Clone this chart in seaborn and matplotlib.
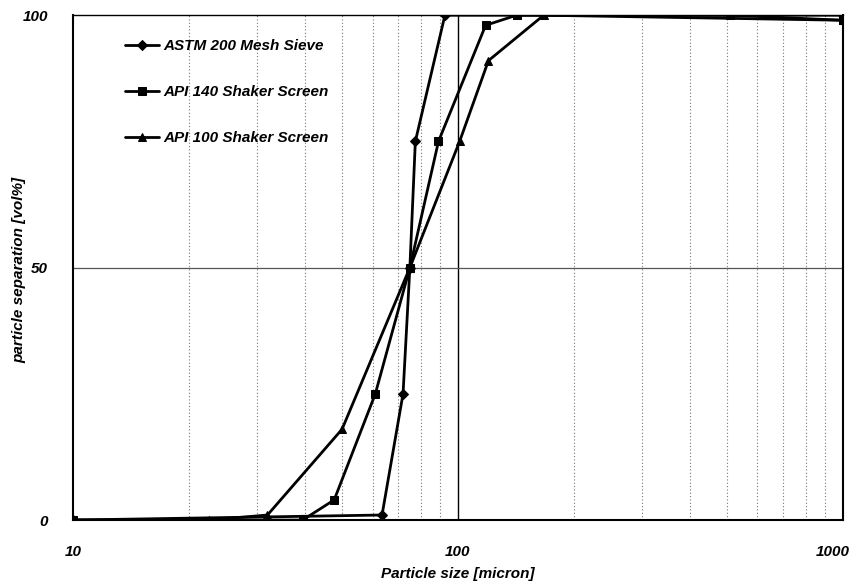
import matplotlib
matplotlib.use("Agg")
import matplotlib.pyplot as plt
import matplotlib.transforms as mtransforms
import seaborn as sns
import numpy as np
import pandas as pd
from matplotlib.ticker import FixedLocator, NullFormatter

# ---- data ----
astm_size = [10, 63.5, 72, 75, 77.5, 92.5, 1000]
astm_sep = [0, 1, 25, 50, 75, 100, 100]

api140_size = [10, 39.5, 47.7, 61, 75, 89, 118, 142, 508, 1000]
api140_sep = [0, 0, 4, 25, 50, 75, 98, 100, 100, 99]

api100_size = [10, 22.5, 32, 50, 75, 101, 120, 167, 1000]
api100_sep = [0, 0, 1, 18, 50, 75, 91, 100, 99]

series_names = ["ASTM 200 Mesh Sieve", "API 140 Shaker Screen", "API 100 Shaker Screen"]
series_markers = ["D", "s", "^"]

x_ticks = [10, 100, 1000]
x_tick_labels = ["10", "100", "1000"]
y_ticks = [0, 50, 100]
y_tick_labels = ["0", "50", "100"]

sns.set_theme(style="white")
plt.rcParams["font.family"] = ["Liberation Sans", "DejaVu Sans"]

fig = plt.figure(figsize=(8.54, 5.85), dpi=100)
ax = fig.add_axes([0.0855, 0.111, 0.9015, 0.863])

frames = []
for name, xs, ys in zip(series_names,
                        [astm_size, api140_size, api100_size],
                        [astm_sep, api140_sep, api100_sep]):
    frames.append(pd.DataFrame({"size": xs, "sep": ys, "series": name}))
df = pd.concat(frames, ignore_index=True)

ax.set_xscale("log")

# grid lines (under data)
minor = [v * d for d in (10, 100) for v in range(2, 10)]
for v in minor:
    ax.axvline(v, color="#777777", lw=0.8, ls=(0, (1, 2)), zorder=0)
ax.axvline(100, color="black", lw=1.0, zorder=0)
ax.axhline(50, color="#555555", lw=0.9, zorder=0)
ax.axhline(100, color="black", lw=1.2, zorder=0)

for name, mk in zip(series_names, series_markers):
    sub = df[df["series"] == name]
    sns.lineplot(data=sub, x="size", y="sep", ax=ax, color="black",
                 lw=2.0, marker=mk, markersize=5.5, markeredgecolor="black",
                 markerfacecolor="black", estimator=None, sort=False,
                 label=name, zorder=3)

ax.set_xlim(10, 1000)
ax.set_ylim(0, 100)
ax.xaxis.set_major_locator(FixedLocator(x_ticks))
ax.xaxis.set_minor_formatter(NullFormatter())
ax.set_xticks(x_ticks)
ax.set_xticklabels(x_tick_labels)
ax.set_yticks(y_ticks)
ax.set_yticklabels(y_tick_labels)

for lab in ax.get_xticklabels() + ax.get_yticklabels():
    lab.set_fontsize(11)
    lab.set_fontweight("bold")
    lab.set_fontstyle("italic")
    lab.set_color("black")

ax.tick_params(axis="both", which="both", length=0)
ax.tick_params(axis="x", pad=18)
ax.tick_params(axis="y", pad=18)

# shift the "1000" label left so it stays inside the figure
xl = ax.get_xticklabels()
shift = mtransforms.ScaledTranslation(-10 / 100, 0, fig.dpi_scale_trans)
xl[-1].set_transform(xl[-1].get_transform() + shift)

ax.set_xlabel("Particle size [micron]", fontsize=11, fontweight="bold",
              fontstyle="italic", color="black", labelpad=6)
ax.set_ylabel("particle separation [vol%]", fontsize=11, fontweight="bold",
              fontstyle="italic", color="black")
ax.yaxis.set_label_coords(-0.06, 0.495)

for side in ["left", "bottom", "right", "top"]:
    ax.spines[side].set_visible(True)
    ax.spines[side].set_color("black")
    ax.spines[side].set_linewidth(1.5)
ax.spines["top"].set_linewidth(1.0)

ax.set_facecolor("white")
ax.grid(False)

leg = ax.legend(loc="upper left", bbox_to_anchor=(0.05, 0.98), frameon=False,
                labelspacing=2.1, handlelength=2.2, handletextpad=0.3,
                prop={"family": "Liberation Sans", "weight": "bold",
                      "style": "italic", "size": 11})
for t in leg.get_texts():
    t.set_color("black")

fig.savefig("out.png", dpi=100)
